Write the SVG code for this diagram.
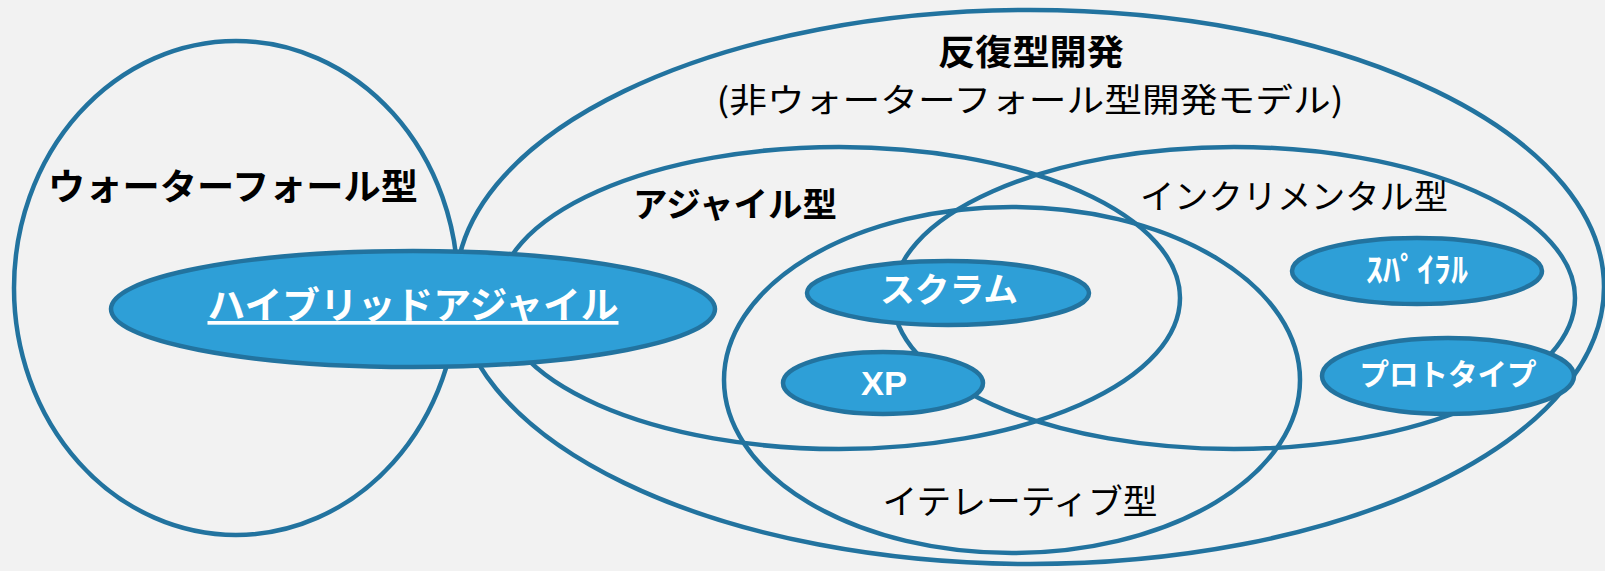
<svg xmlns="http://www.w3.org/2000/svg" width="1605" height="571" viewBox="0 0 1605 571">
<style>
.bg{fill:#F2F2F2}
.set{fill:none;stroke:#22739F;stroke-width:4.5}
.node{fill:#2E9FD7;stroke:#22739F;stroke-width:4.5}
.lbl{font-family:"Noto Sans CJK JP","Noto Sans",sans-serif;fill:#000;text-anchor:middle}
.b{font-weight:700}
.w{fill:#FFFFFF;font-weight:700}
</style>
<rect class="bg" x="0" y="0" width="1605" height="571"/>
<g id="waterfall">
<ellipse class="set" cx="236" cy="288" rx="222" ry="247"/>
<text class="lbl b" x="233" y="200" font-size="36" textLength="370" lengthAdjust="spacingAndGlyphs">ウォーターフォール型</text>
</g>
<g id="iterative-dev">
<ellipse class="set" cx="1030" cy="287" rx="574" ry="277"/>
<text class="lbl b" x="1031" y="65" font-size="35" textLength="186" lengthAdjust="spacingAndGlyphs">反復型開発</text>
<text class="lbl" x="1030" y="112" font-size="33" textLength="627" lengthAdjust="spacingAndGlyphs">(非ウォーターフォール型開発モデル)</text>
</g>
<g id="agile">
<ellipse class="set" cx="839" cy="298" rx="341" ry="151"/>
<text class="lbl b" x="735" y="217" font-size="34" textLength="204" lengthAdjust="spacingAndGlyphs">アジャイル型</text>
</g>
<g id="incremental">
<ellipse class="set" cx="1234" cy="298" rx="341" ry="151"/>
<text class="lbl" x="1294" y="209" font-size="34" textLength="308" lengthAdjust="spacingAndGlyphs">インクリメンタル型</text>
</g>
<g id="iterative">
<ellipse class="set" cx="1012" cy="380" rx="288" ry="173"/>
<text class="lbl" x="1020" y="514" font-size="34" textLength="275" lengthAdjust="spacingAndGlyphs">イテレーティブ型</text>
</g>
<g id="hybrid-agile">
<ellipse class="node" cx="413" cy="309" rx="302" ry="58"/>
<text class="lbl w" x="413" y="319" font-size="37" textLength="411" lengthAdjust="spacingAndGlyphs" text-decoration="underline">ハイブリッドアジャイル</text>
</g>
<g id="scrum">
<ellipse class="node" cx="948" cy="293" rx="141" ry="32"/>
<text class="lbl w" x="949" y="302" font-size="34" textLength="138" lengthAdjust="spacingAndGlyphs">スクラム</text>
</g>
<g id="xp">
<ellipse class="node" cx="883" cy="383" rx="100" ry="31"/>
<text class="lbl w" x="884" y="395" font-size="34" style="font-family:'Liberation Sans',sans-serif" textLength="46" lengthAdjust="spacingAndGlyphs">XP</text>
</g>
<g id="spiral">
<ellipse class="node" cx="1417" cy="271" rx="125" ry="33"/>
<text class="lbl w" x="1417" y="282" font-size="34" textLength="102" lengthAdjust="spacingAndGlyphs">ｽﾊﾟｲﾗﾙ</text>
</g>
<g id="prototype">
<ellipse class="node" cx="1448" cy="376" rx="126" ry="38"/>
<text class="lbl w" x="1448" y="385" font-size="30" textLength="177" lengthAdjust="spacingAndGlyphs">プロトタイプ</text>
</g>
<g id="connectors"></g>
</svg>
